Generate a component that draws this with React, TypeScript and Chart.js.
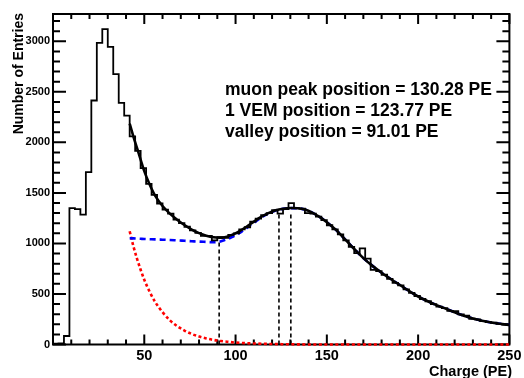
import React, { useEffect, useRef } from "react";
import { Chart, registerables } from "chart.js";

Chart.register(...registerables);

const FONT = "'Liberation Sans', Arial, Helvetica, sans-serif";

// Axes
const xRange = [0, 250];
const yRange = [0, 3270];
const xTickValues = [0, 50, 100, 150, 200, 250];
const yTickValues = [0, 500, 1000, 1500, 2000, 2500, 3000];
const xMinorStep = 10;
const yMinorStep = 100;

// Histogram (bin width 3 PE, starting at 0)
const binStart = 0;
const binWidth = 3;
const histCounts = [
  8, 12, 84, 1350, 1340, 1285, 1705, 2414, 2985, 3120,
  2945, 2675, 2390, 2265, 2060, 1915, 1745, 1590, 1480, 1395,
  1335, 1295, 1235, 1200, 1165, 1130, 1105, 1075, 1075, 1030,
  1062, 1055, 1085, 1100, 1140, 1160, 1215, 1245, 1280, 1300,
  1330, 1295, 1340, 1398, 1350, 1345, 1300, 1295, 1265, 1230,
  1180, 1140, 1090, 1030, 965, 905, 952, 850, 738, 725,
  690, 650, 610, 585, 545, 510, 480, 450, 428, 400,
  375, 360, 332, 330, 298, 285, 255, 248, 232, 222,
  215, 205, 198, 195,
];

// Total fit (black) and signal component (blue)
const fitX = [
  42, 44, 46, 48, 50, 53, 56, 60, 64, 68,
  72, 76, 80, 84, 88, 91, 94, 98, 102, 106,
  110, 114, 118, 122, 126, 130, 134, 138, 142, 146,
  150, 155, 160, 165, 170, 175, 180, 185, 190, 195,
  200, 205, 210, 215, 220, 225, 230, 235, 240, 245, 250,
];
const fitTotal = [
  2185, 2060, 1945, 1830, 1715, 1580, 1470, 1370, 1295, 1235,
  1182, 1137, 1102, 1077, 1061, 1057, 1062, 1085, 1120, 1165,
  1215, 1262, 1300, 1328, 1343, 1350, 1348, 1335, 1305, 1262,
  1210, 1134, 1040, 945, 855, 778, 710, 648, 589, 530,
  475, 430, 390, 355, 318, 285, 258, 235, 218, 205, 193,
];
const fitSignal = [
  1052, 1050, 1048, 1046, 1044, 1042, 1040, 1037, 1034, 1030,
  1026, 1022, 1018, 1015, 1012, 1016, 1034, 1062, 1102, 1152,
  1205, 1255, 1296, 1326, 1342, 1349, 1348, 1335, 1305, 1262,
  1210, 1134, 1040, 945, 855, 778, 710, 648, 589, 530,
  475, 430, 390, 355, 318, 285, 258, 235, 218, 205, 193,
];

// Background component (red)
const bgX = [42, 44, 46, 48, 50, 53, 56, 60, 64, 68, 72, 76, 80, 84, 88, 92, 96, 100, 105, 110, 120, 130, 150, 200, 250];
const bgValues = [1120, 975, 850, 740, 640, 520, 420, 320, 240, 182, 138, 104, 79, 60, 45, 34, 26, 19, 14, 10, 5, 2, 0, 0, 0];

// Marker lines: valley, 1 VEM, muon peak
const markerX = [91.01, 123.77, 130.28];
const markerTop = [1020, 1300, 1315];

const annotationLines = [
  "muon peak position = 130.28 PE",
  "1 VEM position = 123.77 PE",
  "valley position = 91.01 PE",
];
const xTitle = "Charge (PE)";
const yTitle = "Number of Entries";

function histPoints() {
  const pts: { x: number; y: number }[] = [];
  histCounts.forEach((c, k) => {
    const lo = binStart + k * binWidth;
    pts.push({ x: lo, y: c });
    pts.push({ x: lo + binWidth, y: c });
  });
  return pts;
}

function zip(xs: number[], ys: number[]) {
  return xs.map((x, i) => ({ x, y: ys[i] }));
}

const rootFrame = {
  id: "rootFrame",
  beforeDatasetsDraw(chart: any) {
    const { ctx, chartArea: a, scales } = chart;
    const x = scales.x;
    const y = scales.y;
    ctx.save();
    ctx.strokeStyle = "#000";
    ctx.lineWidth = 2;
    ctx.beginPath();
    for (let v = xRange[0]; v <= xRange[1] + 1e-9; v += xMinorStep) {
      const px = x.getPixelForValue(v);
      const len = xTickValues.includes(v) ? 10 : 5;
      ctx.moveTo(px, a.bottom);
      ctx.lineTo(px, a.bottom - len);
      ctx.moveTo(px, a.top);
      ctx.lineTo(px, a.top + len);
    }
    for (let v = yRange[0]; v <= yRange[1]; v += yMinorStep) {
      const py = y.getPixelForValue(v);
      const len = yTickValues.includes(v) ? 13 : 7;
      ctx.moveTo(a.left, py);
      ctx.lineTo(a.left + len, py);
      ctx.moveTo(a.right, py);
      ctx.lineTo(a.right - len, py);
    }
    ctx.stroke();
    ctx.lineWidth = 2;
    ctx.strokeRect(a.left, a.top, a.right - a.left, a.bottom - a.top);
    ctx.restore();
  },
  afterDraw(chart: any) {
    const { ctx } = chart;
    ctx.save();
    ctx.fillStyle = "#000";
    ctx.font = `bold 17.5px ${FONT}`;
    ctx.textAlign = "left";
    ctx.textBaseline = "alphabetic";
    const baselines = [95, 116, 136.5];
    annotationLines.forEach((t, i) => ctx.fillText(t, 225, baselines[i]));

    ctx.font = `bold 14.5px ${FONT}`;
    ctx.textAlign = "right";
    ctx.fillText(xTitle, 512, 376);

    ctx.translate(23.3, 13);
    ctx.rotate(-Math.PI / 2);
    ctx.font = `bold 14px ${FONT}`;
    ctx.textAlign = "right";
    ctx.textBaseline = "alphabetic";
    ctx.fillText(yTitle, 0, 0);
    ctx.restore();
  },
};

export default function App() {
  const ref = useRef<HTMLCanvasElement | null>(null);

  useEffect(() => {
    if (!ref.current) return;
    const markerSets = markerX.map((mx, i) => ({
      data: [
        { x: mx, y: 0 },
        { x: mx, y: markerTop[i] },
      ],
      borderColor: "#000",
      borderWidth: 1.6,
      borderDash: [4, 3],
      pointRadius: 0,
      order: 5,
    }));
    const chart = new Chart(ref.current, {
      type: "line",
      data: {
        datasets: [
          {
            data: zip(fitX, fitTotal),
            borderColor: "#000",
            borderWidth: 2.6,
            pointRadius: 0,
            cubicInterpolationMode: "monotone",
            order: 0,
            clip: 4,
          },
          {
            data: histPoints(),
            borderColor: "#000",
            borderWidth: 1.8,
            pointRadius: 0,
            tension: 0,
            order: 1,
          },
          {
            data: zip(fitX, fitSignal),
            borderColor: "#0000ff",
            borderWidth: 2.6,
            borderDash: [6, 4],
            pointRadius: 0,
            cubicInterpolationMode: "monotone",
            order: 2,
            clip: 4,
          },
          {
            data: zip(bgX, bgValues),
            borderColor: "#ff0000",
            borderWidth: 2.6,
            borderDash: [3, 2.5],
            pointRadius: 0,
            cubicInterpolationMode: "monotone",
            order: 3,
            clip: 4,
          },
          ...markerSets,
        ] as any,
      },
      options: {
        responsive: false,
        animation: false,
        events: [],
        layout: { padding: { top: 14, right: 14, left: 0, bottom: 0 } },
        plugins: {
          legend: { display: false },
          tooltip: { enabled: false },
          title: { display: false },
        },
        scales: {
          x: {
            type: "linear",
            min: xRange[0],
            max: xRange[1],
            grid: { display: false, drawTicks: false },
            border: { display: false },
            afterBuildTicks: (s: any) => {
              s.ticks = xTickValues.map((v) => ({ value: v }));
            },
            afterFit: (s: any) => {
              s.height = 33.5;
            },
            ticks: {
              autoSkip: false,
              maxRotation: 0,
              minRotation: 0,
              padding: 2.5,
              color: "#000",
              font: { family: FONT, weight: "bold", size: 14.5 },
              callback: (v: any) => (Number(v) === 0 ? "" : String(v)),
            },
          },
          y: {
            type: "linear",
            min: yRange[0],
            max: yRange[1],
            grid: { display: false, drawTicks: false },
            border: { display: false },
            afterBuildTicks: (s: any) => {
              s.ticks = yTickValues.map((v) => ({ value: v }));
            },
            afterFit: (s: any) => {
              s.width = 53;
            },
            ticks: {
              autoSkip: false,
              padding: 3,
              color: "#000",
              font: { family: FONT, weight: "bold", size: 11 },
              callback: (v: any) => String(v),
            },
          },
        },
      } as any,
      plugins: [rootFrame],
    });
    return () => chart.destroy();
  }, []);

  return (
    <div style={{ position: "absolute", left: 0, top: 0, width: 524, height: 378, background: "#fff" }}>
      <canvas ref={ref} width={524} height={378} />
    </div>
  );
}
